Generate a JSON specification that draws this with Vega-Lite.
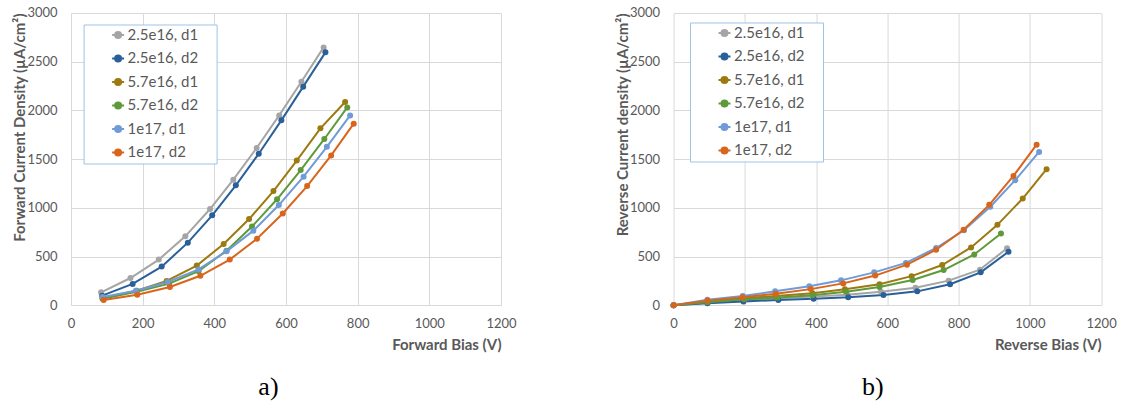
{
  "$schema": "https://vega.github.io/schema/vega-lite/v6.json",
  "padding": {"left": 12, "top": 7, "right": 5, "bottom": 5},
  "background": "white",
  "spacing": 172.6,
  "bounds": "flush",
  "config": {
    "font": "Lato",
    "view": {"stroke": null},
    "axis": {"grid": true, "gridColor": "#d9d9d9", "gridWidth": 1, "domain": false, "ticks": false, "labelColor": "#595959", "labelFontSize": 13, "labelFont": "Lato", "titleColor": "#595959", "titleFontSize": 15, "titleFont": "Lato", "titleFontWeight": "bold", "format": "d"},
    "title": {"font": "Liberation Serif", "fontSize": 26, "fontWeight": "normal", "color": "black"},
    "legend": {"orient": "none", "titleOrient": "right", "titleColor": "rgba(255,255,255,0)", "titleFontSize": 8, "titlePadding": 10, "strokeColor": "#9dc3e6", "fillColor": "white", "padding": 3, "symbolType": "M-1,0L1,0M0.5,0A0.5,0.5 0 1 1 -0.5,0A0.5,0.5 0 1 1 0.5,0Z", "symbolSize": 144, "symbolStrokeWidth": 2, "symbolOffset": 24, "labelOffset": 2, "labelFontSize": 15, "labelFont": "Lato", "labelColor": "#595959", "rowPadding": 7.5}
  },
  "datasets": {
    "fwd": [
      {"s": "2.5e16, d1", "v": 84, "j": 133}, {"s": "2.5e16, d1", "v": 166, "j": 280}, {"s": "2.5e16, d1", "v": 245, "j": 469}, {"s": "2.5e16, d1", "v": 319, "j": 708}, {"s": "2.5e16, d1", "v": 388, "j": 988}, {"s": "2.5e16, d1", "v": 453, "j": 1289}, {"s": "2.5e16, d1", "v": 518, "j": 1614}, {"s": "2.5e16, d1", "v": 581, "j": 1949}, {"s": "2.5e16, d1", "v": 643, "j": 2295}, {"s": "2.5e16, d1", "v": 705, "j": 2647},
      {"s": "2.5e16, d2", "v": 87, "j": 99}, {"s": "2.5e16, d2", "v": 172, "j": 219}, {"s": "2.5e16, d2", "v": 253, "j": 397}, {"s": "2.5e16, d2", "v": 326, "j": 643}, {"s": "2.5e16, d2", "v": 394, "j": 923}, {"s": "2.5e16, d2", "v": 460, "j": 1231}, {"s": "2.5e16, d2", "v": 524, "j": 1556}, {"s": "2.5e16, d2", "v": 587, "j": 1898}, {"s": "2.5e16, d2", "v": 648, "j": 2244}, {"s": "2.5e16, d2", "v": 710, "j": 2596},
      {"s": "5.7e16, d1", "v": 88, "j": 75}, {"s": "5.7e16, d1", "v": 183, "j": 150}, {"s": "5.7e16, d1", "v": 267, "j": 250}, {"s": "5.7e16, d1", "v": 351, "j": 408}, {"s": "5.7e16, d1", "v": 426, "j": 629}, {"s": "5.7e16, d1", "v": 497, "j": 885}, {"s": "5.7e16, d1", "v": 565, "j": 1172}, {"s": "5.7e16, d1", "v": 630, "j": 1485}, {"s": "5.7e16, d1", "v": 696, "j": 1816}, {"s": "5.7e16, d1", "v": 765, "j": 2086},
      {"s": "5.7e16, d2", "v": 88, "j": 68}, {"s": "5.7e16, d2", "v": 183, "j": 140}, {"s": "5.7e16, d2", "v": 274, "j": 222}, {"s": "5.7e16, d2", "v": 356, "j": 350}, {"s": "5.7e16, d2", "v": 434, "j": 561}, {"s": "5.7e16, d2", "v": 505, "j": 808}, {"s": "5.7e16, d2", "v": 575, "j": 1088}, {"s": "5.7e16, d2", "v": 641, "j": 1388}, {"s": "5.7e16, d2", "v": 707, "j": 1707}, {"s": "5.7e16, d2", "v": 771, "j": 2031},
      {"s": "1e17, d1", "v": 88, "j": 85}, {"s": "1e17, d1", "v": 181, "j": 150}, {"s": "1e17, d1", "v": 270, "j": 239}, {"s": "1e17, d1", "v": 356, "j": 368}, {"s": "1e17, d1", "v": 434, "j": 554}, {"s": "1e17, d1", "v": 509, "j": 766}, {"s": "1e17, d1", "v": 580, "j": 1029}, {"s": "1e17, d1", "v": 649, "j": 1320}, {"s": "1e17, d1", "v": 714, "j": 1626}, {"s": "1e17, d1", "v": 779, "j": 1949},
      {"s": "1e17, d2", "v": 91, "j": 55}, {"s": "1e17, d2", "v": 185, "j": 109}, {"s": "1e17, d2", "v": 276, "j": 188}, {"s": "1e17, d2", "v": 361, "j": 303}, {"s": "1e17, d2", "v": 443, "j": 469}, {"s": "1e17, d2", "v": 519, "j": 684}, {"s": "1e17, d2", "v": 591, "j": 942}, {"s": "1e17, d2", "v": 659, "j": 1224}, {"s": "1e17, d2", "v": 726, "j": 1538}, {"s": "1e17, d2", "v": 789, "j": 1864}
    ],
    "rev": [
      {"s": "2.5e16, d1", "v": 0, "j": 0}, {"s": "2.5e16, d1", "v": 95, "j": 27}, {"s": "2.5e16, d1", "v": 198, "j": 55}, {"s": "2.5e16, d1", "v": 292, "j": 72}, {"s": "2.5e16, d1", "v": 390, "j": 89}, {"s": "2.5e16, d1", "v": 488, "j": 108}, {"s": "2.5e16, d1", "v": 582, "j": 140}, {"s": "2.5e16, d1", "v": 679, "j": 180}, {"s": "2.5e16, d1", "v": 772, "j": 253}, {"s": "2.5e16, d1", "v": 860, "j": 366}, {"s": "2.5e16, d1", "v": 936, "j": 586},
      {"s": "2.5e16, d2", "v": 0, "j": 0}, {"s": "2.5e16, d2", "v": 95, "j": 20}, {"s": "2.5e16, d2", "v": 196, "j": 38}, {"s": "2.5e16, d2", "v": 294, "j": 55}, {"s": "2.5e16, d2", "v": 393, "j": 68}, {"s": "2.5e16, d2", "v": 490, "j": 82}, {"s": "2.5e16, d2", "v": 589, "j": 106}, {"s": "2.5e16, d2", "v": 684, "j": 143}, {"s": "2.5e16, d2", "v": 776, "j": 216}, {"s": "2.5e16, d2", "v": 862, "j": 338}, {"s": "2.5e16, d2", "v": 940, "j": 550},
      {"s": "5.7e16, d1", "v": 0, "j": 0}, {"s": "5.7e16, d1", "v": 95, "j": 38}, {"s": "5.7e16, d1", "v": 196, "j": 70}, {"s": "5.7e16, d1", "v": 287, "j": 96}, {"s": "5.7e16, d1", "v": 390, "j": 123}, {"s": "5.7e16, d1", "v": 481, "j": 164}, {"s": "5.7e16, d1", "v": 578, "j": 217}, {"s": "5.7e16, d1", "v": 668, "j": 299}, {"s": "5.7e16, d1", "v": 754, "j": 413}, {"s": "5.7e16, d1", "v": 835, "j": 594}, {"s": "5.7e16, d1", "v": 909, "j": 826}, {"s": "5.7e16, d1", "v": 980, "j": 1096}, {"s": "5.7e16, d1", "v": 1047, "j": 1397},
      {"s": "5.7e16, d2", "v": 0, "j": 0}, {"s": "5.7e16, d2", "v": 95, "j": 31}, {"s": "5.7e16, d2", "v": 198, "j": 62}, {"s": "5.7e16, d2", "v": 292, "j": 80}, {"s": "5.7e16, d2", "v": 390, "j": 102}, {"s": "5.7e16, d2", "v": 484, "j": 140}, {"s": "5.7e16, d2", "v": 578, "j": 187}, {"s": "5.7e16, d2", "v": 671, "j": 260}, {"s": "5.7e16, d2", "v": 758, "j": 362}, {"s": "5.7e16, d2", "v": 844, "j": 522}, {"s": "5.7e16, d2", "v": 919, "j": 737},
      {"s": "1e17, d1", "v": 0, "j": 0}, {"s": "1e17, d1", "v": 95, "j": 58}, {"s": "1e17, d1", "v": 194, "j": 96}, {"s": "1e17, d1", "v": 285, "j": 143}, {"s": "1e17, d1", "v": 381, "j": 195}, {"s": "1e17, d1", "v": 470, "j": 256}, {"s": "1e17, d1", "v": 563, "j": 338}, {"s": "1e17, d1", "v": 652, "j": 435}, {"s": "1e17, d1", "v": 737, "j": 588}, {"s": "1e17, d1", "v": 815, "j": 770}, {"s": "1e17, d1", "v": 889, "j": 1011}, {"s": "1e17, d1", "v": 959, "j": 1284}, {"s": "1e17, d1", "v": 1026, "j": 1574},
      {"s": "1e17, d2", "v": 0, "j": 0}, {"s": "1e17, d2", "v": 95, "j": 48}, {"s": "1e17, d2", "v": 194, "j": 82}, {"s": "1e17, d2", "v": 287, "j": 118}, {"s": "1e17, d2", "v": 385, "j": 166}, {"s": "1e17, d2", "v": 476, "j": 225}, {"s": "1e17, d2", "v": 566, "j": 305}, {"s": "1e17, d2", "v": 655, "j": 417}, {"s": "1e17, d2", "v": 737, "j": 570}, {"s": "1e17, d2", "v": 814, "j": 775}, {"s": "1e17, d2", "v": 886, "j": 1031}, {"s": "1e17, d2", "v": 954, "j": 1328}, {"s": "1e17, d2", "v": 1019, "j": 1649}
    ]
  },
  "resolve": {"legend": {"color": "independent"}},
  "hconcat": [
    {
      "width": 430,
      "height": 292.3,
      "title": {"text": "a)", "orient": "bottom", "anchor": "middle", "frame": "bounds", "offset": 22, "dx": 4},
      "data": {"name": "fwd"},
      "mark": {"type": "line", "strokeWidth": 2, "point": {"filled": true, "size": 36, "opacity": 1}},
      "encoding": {
        "x": {"field": "v", "type": "quantitative", "scale": {"domain": [0, 1200], "nice": false}, "axis": {"values": [0, 200, 400, 600, 800, 1000, 1200], "title": "Forward Bias (V)", "titleAnchor": "end", "labelPadding": 12, "titlePadding": 7, "labelFlush": false}},
        "y": {"field": "j", "type": "quantitative", "scale": {"domain": [0, 3000], "nice": false}, "axis": {"values": [0, 500, 1000, 1500, 2000, 2500, 3000], "title": "Forward Current Density (µA/cm²)", "titleAnchor": "end", "labelPadding": 14, "titlePadding": -1, "labelFlush": false}},
        "color": {"field": "s", "type": "nominal", "scale": {"domain": ["2.5e16, d1", "2.5e16, d2", "5.7e16, d1", "5.7e16, d2", "1e17, d1", "1e17, d2"], "range": ["#a5a5a5", "#2a6099", "#9c7a0f", "#5e9a3a", "#6f9bd8", "#d9651c"]}, "legend": {"title": "x", "legendX": 12.6, "legendY": 11.5, "encode": {"symbols": {"update": {"fill": {"scale": "color", "field": "value"}, "stroke": {"scale": "color", "field": "value"}, "strokeWidth": {"value": 2}}}}}}
      }
    },
    {
      "width": 427.5,
      "height": 292.3,
      "title": {"text": "b)", "orient": "bottom", "anchor": "middle", "frame": "bounds", "offset": 22, "dx": 7},
      "data": {"name": "rev"},
      "mark": {"type": "line", "strokeWidth": 2, "point": {"filled": true, "size": 36, "opacity": 1}},
      "encoding": {
        "x": {"field": "v", "type": "quantitative", "scale": {"domain": [0, 1200], "nice": false}, "axis": {"values": [0, 200, 400, 600, 800, 1000, 1200], "title": "Reverse Bias (V)", "titleAnchor": "end", "labelPadding": 12, "titlePadding": 7, "labelFlush": false}},
        "y": {"field": "j", "type": "quantitative", "scale": {"domain": [0, 3000], "nice": false}, "axis": {"values": [0, 500, 1000, 1500, 2000, 2500, 3000], "title": "Reverse Current density (µA/cm²)", "titleAnchor": "end", "labelPadding": 14, "titlePadding": -1, "labelFlush": false}},
        "color": {"field": "s", "type": "nominal", "scale": {"domain": ["2.5e16, d1", "2.5e16, d2", "5.7e16, d1", "5.7e16, d2", "1e17, d1", "1e17, d2"], "range": ["#a5a5a5", "#2a6099", "#9c7a0f", "#5e9a3a", "#6f9bd8", "#d9651c"]}, "legend": {"title": "x", "legendX": 16.4, "legendY": 9.5, "encode": {"symbols": {"update": {"fill": {"scale": "color", "field": "value"}, "stroke": {"scale": "color", "field": "value"}, "strokeWidth": {"value": 2}}}}}}
      }
    }
  ]
}
